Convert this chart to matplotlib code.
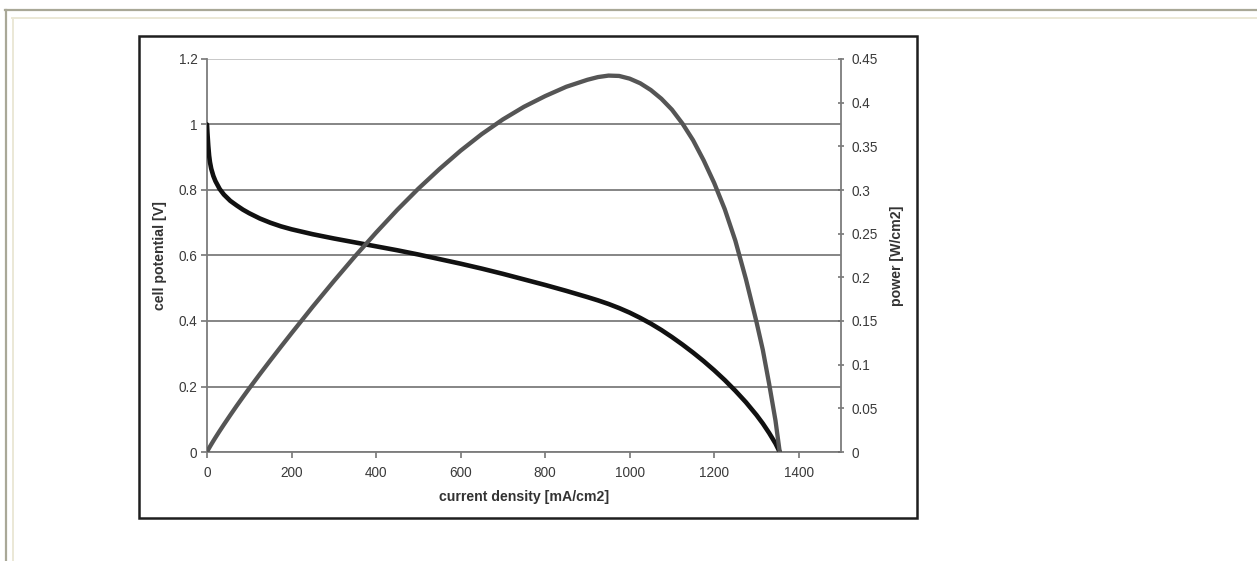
import matplotlib
matplotlib.use("Agg")
import matplotlib.pyplot as plt
from matplotlib.patches import Rectangle
from matplotlib.lines import Line2D

plt.rcParams['font.family'] = ['Liberation Sans', 'DejaVu Sans']

# current density [mA/cm2]
current_density = [0, 1, 2, 3, 5, 7, 10, 15, 20, 30, 40, 55, 70, 85, 100, 125,
                   150, 175, 200, 250, 300, 350, 400, 450, 500, 550, 600, 650,
                   700, 750, 800, 850, 900, 925, 950, 975, 1000, 1025, 1050,
                   1075, 1100, 1125, 1150, 1175, 1200, 1225, 1250, 1275, 1300,
                   1315, 1330, 1345, 1355]
# cell potential [V]
cell_potential = [1.0, 0.975, 0.955, 0.935, 0.905, 0.885, 0.865, 0.843, 0.827,
                  0.803, 0.786, 0.767, 0.753, 0.740, 0.729, 0.713, 0.700, 0.689,
                  0.680, 0.665, 0.652, 0.640, 0.628, 0.616, 0.603, 0.589, 0.575,
                  0.560, 0.544, 0.527, 0.510, 0.492, 0.473, 0.463, 0.452, 0.4395,
                  0.4255, 0.4095, 0.392, 0.3725, 0.351, 0.328, 0.3035, 0.2775,
                  0.2495, 0.2195, 0.187, 0.152, 0.113, 0.087, 0.058, 0.026, 0.0]
# power density [W/cm2]
power = [0.0, 0.00098, 0.00191, 0.0028, 0.00453, 0.0062, 0.00865, 0.01265,
         0.01654, 0.0241, 0.03144, 0.04219, 0.05271, 0.0629, 0.0729, 0.08913,
         0.105, 0.1206, 0.136, 0.1663, 0.1956, 0.224, 0.2512, 0.2772, 0.3015,
         0.324, 0.345, 0.364, 0.3808, 0.3953, 0.4075, 0.4182, 0.4262, 0.4293,
         0.4310, 0.4306, 0.4275, 0.4222, 0.4145, 0.4045, 0.392, 0.376, 0.357,
         0.334, 0.308, 0.278, 0.242, 0.198, 0.149, 0.117, 0.078, 0.036, 0.0]

x_ticks = [0, 200, 400, 600, 800, 1000, 1200, 1400]
x_labels = ['0', '200', '400', '600', '800', '1000', '1200', '1400']
v_ticks = [0, 0.2, 0.4, 0.6, 0.8, 1.0, 1.2]
v_labels = ['0', '0.2', '0.4', '0.6', '0.8', '1', '1.2']
p_ticks = [0, 0.05, 0.1, 0.15, 0.2, 0.25, 0.3, 0.35, 0.4, 0.45]
p_labels = ['0', '0.05', '0.1', '0.15', '0.2', '0.25', '0.3', '0.35', '0.4', '0.45']

W, H = 1257, 561
fig = plt.figure(figsize=(W / 100, H / 100), dpi=100)
fig.patch.set_facecolor('white')

def fx(px):
    return px / W

def fy(py):
    return 1 - py / H

# page frame lines
fig.add_artist(Line2D([fx(5), 1], [fy(10), fy(10)], color='#a9a897', lw=1.6))
fig.add_artist(Line2D([fx(6), fx(6)], [fy(10), 0], color='#a9a897', lw=1.6))
fig.add_artist(Line2D([fx(12), 1], [fy(17.5), fy(17.5)], color='#ebe8d6', lw=1.4))
fig.add_artist(Line2D([fx(12.5), fx(12.5)], [fy(17.5), 0], color='#ebe8d6', lw=1.4))

# chart box
fig.add_artist(Rectangle((fx(139), fy(518)), fx(917 - 139), (518 - 36) / H,
                         fill=False, edgecolor='#1e1e1e', lw=1.8))

ax = fig.add_axes([fx(207), fy(452), fx(841 - 207), (452 - 59) / H])
ax.set_facecolor('white')
ax.set_xlim(0, 1500)
ax.set_ylim(0, 1.2)

grid_color = '#7c7c7c'
ax.set_yticks(v_ticks)
ax.set_yticklabels(v_labels)
ax.set_xticks(x_ticks)
ax.set_xticklabels(x_labels)
ax.yaxis.grid(True, color=grid_color, lw=1.3)
ax.set_axisbelow(True)
ax.yaxis.get_gridlines()[-1].set_color('#c4c4c4')

for side in ('top', 'right'):
    ax.spines[side].set_visible(False)
for side in ('left', 'bottom'):
    ax.spines[side].set_color(grid_color)
    ax.spines[side].set_linewidth(1.3)

ax.tick_params(axis='y', colors='#6a6a6a', length=4, width=1.1,
               labelsize=9.8, labelcolor='#3a3a3a', pad=3)
ax.tick_params(axis='x', colors='#6a6a6a', length=4, width=1.1,
               labelsize=9.8, labelcolor='#3a3a3a', pad=6)

ax.plot(current_density, cell_potential, color='#111111', lw=3.3,
        solid_capstyle='round', solid_joinstyle='round', zorder=3)

ax.set_xlabel('current density [mA/cm2]', fontsize=10.2, fontweight='bold',
              color='#333333', labelpad=7)
ax.set_ylabel('cell potential [V]', fontsize=10.2, fontweight='bold',
              color='#333333', labelpad=8)

ax2 = ax.twinx()
ax2.set_ylim(0, 0.45)
ax2.set_yticks(p_ticks)
ax2.set_yticklabels(p_labels)
for side in ('top', 'left', 'bottom'):
    ax2.spines[side].set_visible(False)
ax2.spines['right'].set_color(grid_color)
ax2.spines['right'].set_linewidth(1.3)
ax2.tick_params(axis='y', colors='#6a6a6a', length=5, width=1.1, direction='inout',
                labelsize=9.8, labelcolor='#3a3a3a', pad=5)
ax2.plot(current_density, power, color='#555555', lw=3.1,
         solid_capstyle='round', solid_joinstyle='round', zorder=4)
ax2.set_ylabel('power [W/cm2]', fontsize=10.2, fontweight='bold', color='#333333',
               rotation=90, labelpad=9)

fig.savefig('out.png', dpi=100, facecolor='white')
